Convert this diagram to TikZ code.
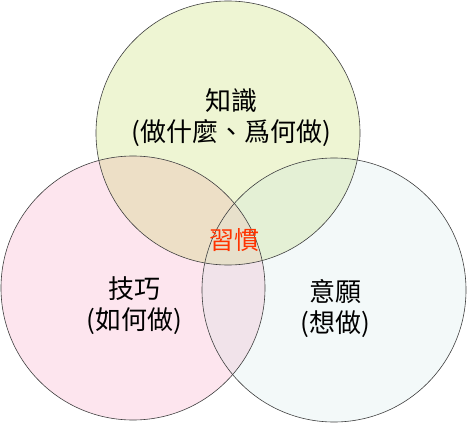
\documentclass[tikz,border=0pt]{standalone}
\usepackage{fontspec}
\newfontfamily\cjk{Noto Sans CJK TC}
\definecolor{knowfill}{HTML}{EEF5D3}
\definecolor{skillfill}{HTML}{FDE5EE}
\definecolor{wantfill}{HTML}{F3F9F9}
\definecolor{ksfill}{HTML}{EDDFC6}
\definecolor{kwfill}{HTML}{E4F0D5}
\definecolor{swfill}{HTML}{F1E3EA}
\definecolor{habitfill}{HTML}{E7E0CB}
\definecolor{rimline}{HTML}{3F3F3F}
\definecolor{habitred}{HTML}{FF3300}
\begin{document}
\begin{tikzpicture}[x=1pt,y=1pt,yscale=-1,
  rim/.style={draw=rimline,line width=0.6pt},
  word/.style={font=\cjk\fontsize{26}{31}\selectfont,align=center,inner sep=0pt}]
\useasboundingbox (0,0) rectangle (470,430);

%Shape: Circle [know]
\fill[knowfill] (228,133) circle[radius=132pt];
%Shape: Circle [skill]
\fill[skillfill] (133,288) circle[radius=132pt];
%Shape: Circle [want]
\fill[wantfill] (334,290) circle[radius=132pt];

%overlaps
\begin{scope}
\clip (228,133) circle[radius=132pt];
\fill[ksfill] (133,288) circle[radius=132pt];
\fill[kwfill] (334,290) circle[radius=132pt];
\end{scope}
\begin{scope}
\clip (133,288) circle[radius=132pt];
\fill[swfill] (334,290) circle[radius=132pt];
\clip (334,290) circle[radius=132pt];
\fill[habitfill] (228,133) circle[radius=132pt];
\end{scope}

%outlines
\draw[rim] (228,133) circle[radius=132pt];
\draw[rim] (133,288) circle[radius=132pt];
\draw[rim] (334,290) circle[radius=132pt];

%labels
\node[word] (know) at (231,118) {知識\\(做什麼、爲何做)};
\node[word] (skill) at (134,306) {技巧\\(如何做)};
\node[word] (want) at (335,309) {意願\\(想做)};
\node[word,text=habitred,font=\cjk\fontsize{25}{30}\selectfont] (habit) at (234,240) {習慣};

\end{tikzpicture}
\end{document}
